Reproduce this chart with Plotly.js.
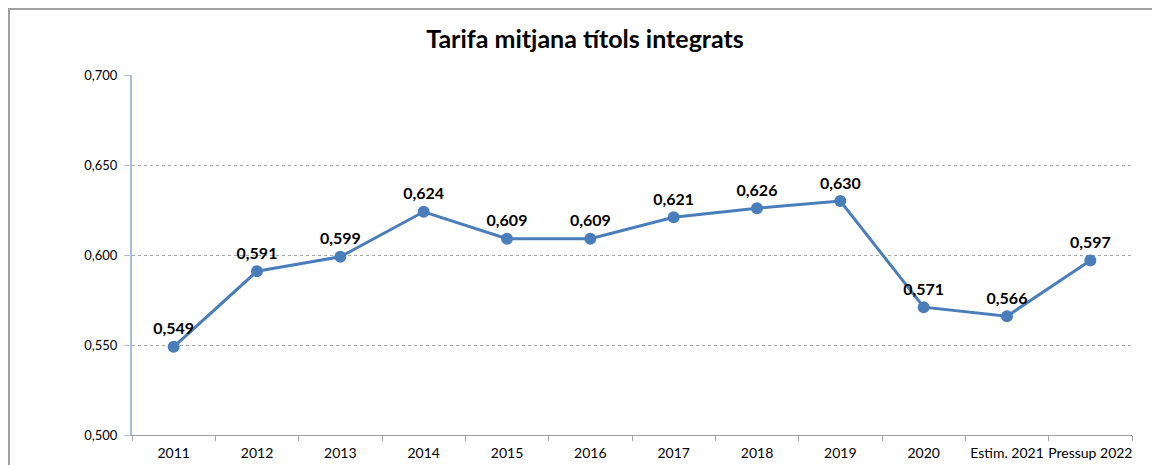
<!DOCTYPE html>
<html><head><meta charset="utf-8">
<script src="https://cdn.plot.ly/plotly-3.0.1.min.js"></script>
<style>html,body{margin:0;padding:0;background:#fff}#c{width:1152px;height:465px}</style>
</head><body><div id="c"></div>
<script>
const categories = ["2011","2012","2013","2014","2015","2016","2017","2018","2019","2020","Estim. 2021","Pressup 2022"];
const values = [0.549,0.591,0.599,0.624,0.609,0.609,0.621,0.626,0.630,0.571,0.566,0.597];
const yTicks = [0.500,0.550,0.600,0.650,0.700];
const titleText = "Tarifa mitjana títols integrats";

const labels = values.map(v => v.toFixed(3).replace('.', ','));
const font = "Lato, 'Open Sans', sans-serif";

Plotly.newPlot('c', [{
  x: categories, y: values, type: 'scatter', mode: 'lines+markers+text',
  line: {color: '#4a7ebb', width: 3},
  marker: {color: '#4a7ebb', size: 12},
  text: labels, textposition: 'top center',
  textfont: {family: font, size: 16, color: '#000', weight: 'bold'},
  cliponaxis: false, hoverinfo: 'skip'
}], {
  width: 1152, height: 465,
  margin: {l: 132, r: 20, t: 75, b: 30},
  paper_bgcolor: '#fff', plot_bgcolor: '#fff',
  separators: ',.',
  showlegend: false,
  title: {text: '<b>' + titleText + '</b>', xref: 'paper', x: 0.453, xanchor: 'center', y: 0.915, yanchor: 'middle',
          font: {family: font, size: 25, color: '#000'}},
  xaxis: {type: 'category', showgrid: false, showline: true, linecolor: '#a0a0a0', linewidth: 1,
          ticks: 'outside', tickson: 'boundaries', ticklen: 5, tickcolor: '#a0a0a0', tickangle: 0,
          ticklabelstandoff: 5, automargin: false,
          tickfont: {family: font, size: 14, color: '#000'}, range: [-0.5, 11.5], fixedrange: true},
  yaxis: {range: [0.5, 0.7], tickvals: yTicks, tickformat: '.3f', showgrid: true, gridcolor: '#a6a6a6',
          griddash: 'dot', gridwidth: 1, zeroline: false, showline: true, linecolor: '#a6bfde', linewidth: 2,
          ticks: 'outside', ticklen: 6, tickcolor: '#a6bfde', ticklabelstandoff: 4,
          tickfont: {family: font, size: 13, color: '#000'}},
  shapes: [{type: 'rect', xref: 'paper', yref: 'paper', x0: -0.123, x1: 1.2, y0: -0.3, y1: 1.1833,
            line: {color: '#a0a0a0', width: 2}, fillcolor: 'rgba(0,0,0,0)', layer: 'below'}]
}, {displayModeBar: false, staticPlot: true});
</script></body></html>
